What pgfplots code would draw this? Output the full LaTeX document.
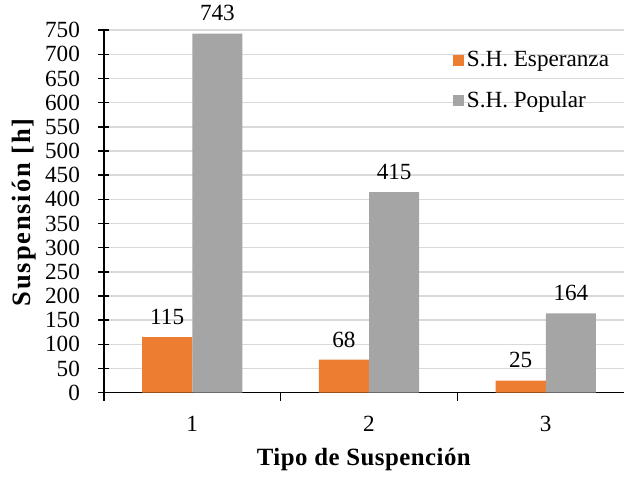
\documentclass[border=0pt]{standalone}
\usepackage{pgfplots}
\pgfplotsset{compat=1.18}
\usepackage{fontspec}
\setmainfont{Liberation Serif}
\definecolor{orangebar}{RGB}{237,125,49}
\definecolor{graybar}{RGB}{165,165,165}
\definecolor{gridc}{RGB}{217,217,217}
\begin{document}
\begin{tikzpicture}
\begin{axis}[
  font=\fontsize{14}{16}\selectfont,
  /pgf/number format/assume math mode=true,
  scale only axis,
  width=314.4pt, height=219pt,
  ybar=0pt, bar width=0.284,
  xmin=0.5, xmax=3.444,
  ymin=0, ymax=750,
  ytick={0,50,...,750},
  xtick={1,2,3},
  minor xtick={0.5,1.5,2.5},
  major x tick style={draw=none},
  minor x tick style={draw=black, line width=0.9pt},
  xtick align=outside,
  ytick align=center,
  major tick length=6.6pt,
  minor tick length=4.8pt,
  tick style={black, line width=0.9pt},
  ymajorgrids,
  grid style={gridc, line width=0.9pt},
  axis x line*=bottom,
  axis y line*=left,
  axis line style={black, line width=0.9pt, -},
  xlabel={\addfontfeatures{LetterSpace=2}\textbf{Tipo de Suspención}},
  ylabel={\addfontfeatures{LetterSpace=7}\textbf{Suspensión [h]}},
  xlabel style={yshift=-3.2pt, font=\fontsize{15}{17}\selectfont},
  ylabel style={inner ysep=7.1pt, yshift=-5pt, font=\fontsize{16}{18}\selectfont},
  xticklabel style={yshift=-4.2pt},
  yticklabel style={xshift=-7.7pt},
  nodes near coords,
  nodes near coords style={font=\fontsize{14}{16}\selectfont, yshift=4pt},
  legend style={draw=none, fill=none, at={(0.66,0.96)}, anchor=north west, row sep=9pt, font=\fontsize{14}{16}\selectfont},
  legend cell align=left,
  legend image code/.code={\fill[#1] (0pt,-3.3pt) rectangle (6.6pt,3.3pt);},
  clip=false,
]
\addplot[fill=orangebar, draw=none] coordinates {(1,115) (2,68) (3,25)};
\addplot[fill=graybar, draw=none] coordinates {(1,743) (2,415) (3,164)};
\legend{S.H. Esperanza, S.H. Popular}
\end{axis}
\end{tikzpicture}
\end{document}
